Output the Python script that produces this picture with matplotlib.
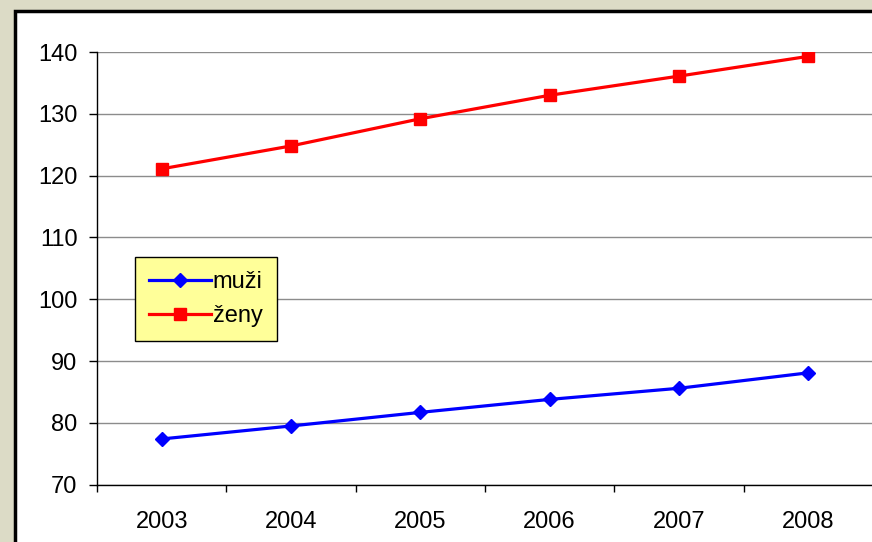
import matplotlib.pyplot as plt
from matplotlib.patches import Rectangle

plt.rcParams['font.family'] = ['Liberation Sans', 'DejaVu Sans']

years = ["2003", "2004", "2005", "2006", "2007", "2008"]
muzi = [77.4, 79.5, 81.7, 83.8, 85.6, 88.1]
zeny = [121.1, 124.8, 129.2, 133.0, 136.1, 139.3]

W, H = 872, 542
fig = plt.figure(figsize=(W / 100, H / 100), dpi=100)
fig.patch.set_facecolor('#DCDBC6')

# white chart frame, running off the right and bottom edges
fig.patches.append(Rectangle((15 / W, -0.05), 1.0, 1 - 11 / H + 0.05,
                             transform=fig.transFigure, facecolor='white',
                             edgecolor='black', linewidth=2.5, zorder=-10))

ax = fig.add_axes([97 / W, (H - 484.7) / H, (873 - 97) / W, (484.7 - 52) / H])
ax.set_facecolor('none')

x = range(len(years))
ax.plot(x, muzi, color='#0000FF', lw=2.3, marker='D', ms=7.5, label='muži')
ax.plot(x, zeny, color='#FF0000', lw=2.3, marker='s', ms=8, label='ženy')

ax.set_xlim(-0.5, 5.5)
ax.set_ylim(70, 140)
ax.set_yticks(range(70, 141, 10))
ax.set_xticks(list(x))
ax.set_xticklabels(years)
ax.set_xticks([i - 0.5 for i in range(len(years) + 1)], minor=True)
ax.tick_params(axis='x', which='major', length=0, pad=19, labelsize=17)
ax.tick_params(axis='x', which='minor', length=5, width=1, direction='out')
ax.tick_params(axis='y', length=6, width=1, direction='out', pad=8, labelsize=17)

ax.grid(axis='y', color='#8C8C8C', lw=1)
ax.set_axisbelow(True)
for s in ('top', 'right'):
    ax.spines[s].set_visible(False)
for s in ('left', 'bottom'):
    ax.spines[s].set_linewidth(1)

leg = fig.legend(loc='upper left', bbox_to_anchor=(135 / W, 1 - 257 / H),
                 fontsize=17, frameon=True, fancybox=False, borderaxespad=0,
                 handlelength=2.6, handletextpad=0.1, labelspacing=0.5,
                 borderpad=0.6)
leg.get_frame().set_facecolor('#FFFF99')
leg.get_frame().set_edgecolor('black')
leg.get_frame().set_linewidth(1)
leg.get_frame().set_alpha(1)

fig.savefig('out.png', dpi=100, facecolor=fig.get_facecolor())
